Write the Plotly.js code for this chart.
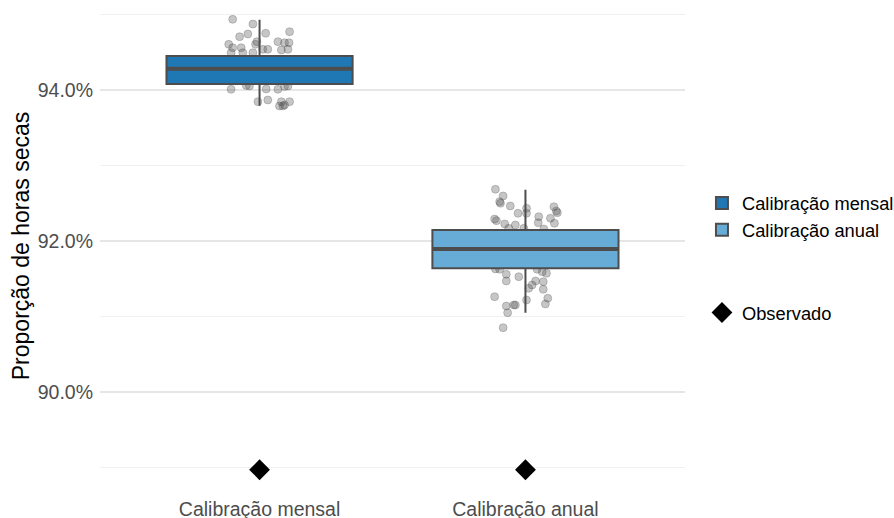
<!DOCTYPE html>
<html>
<head>
<meta charset="utf-8">
<script src="https://cdn.plot.ly/plotly-3.0.1.min.js"></script>
<style>html,body{margin:0;padding:0;background:#fff;}#chart{width:894px;height:518px;}</style>
</head>
<body>
<div id="chart"></div>
<script>
// ---------- data ----------
const categories = ["Calibração mensal", "Calibração anual"];
const boxQ1 = [94.08, 91.64];
const boxMedian = [94.28, 91.895];
const boxQ3 = [94.45, 92.146];
const boxLower = [93.79, 91.05];
const boxUpper = [94.93, 92.68];
const observado = [88.97, 88.97];

// jittered simulation points (offset from category centre, value in %)
const mensalJitter = [-0.101,-0.025,0.113,-0.075,-0.044,0.023,-0.116,-0.101,-0.069,-0.015,-0.010,0.069,0.094,0.111,0.031,0.082,0.107,-0.107,-0.063,-0.025,0.012,
  -0.107,-0.050,-0.038,0.025,0.069,0.094,0.107,0.031,-0.006,0.082,0.088,0.113,0.075,0.094,
  -0.090,-0.040,0.010,0.050,0.100,-0.070,0.030,0.060,-0.020,0.085];
const mensalValues = [94.936,94.874,94.772,94.706,94.742,94.751,94.605,94.560,94.560,94.605,94.640,94.640,94.626,94.626,94.539,94.530,94.539,94.494,94.494,94.494,94.539,
  94.009,94.060,94.053,94.013,94.009,94.046,94.053,93.868,93.845,93.845,93.788,93.845,93.788,93.801,
  94.12,94.18,94.22,94.30,94.35,94.40,94.25,94.15,94.38,94.32];
const anualJitter = [-0.113,-0.084,-0.097,-0.094,-0.057,0.004,-0.028,0.004,0.107,0.116,0.120,0.050,0.094,-0.116,-0.109,-0.078,-0.038,0.048,0.109,0.069,-0.063,-0.006,
  -0.113,-0.097,-0.072,-0.072,-0.025,0.044,0.063,0.079,0.038,0.025,0.012,0.067,0.067,-0.116,0.004,0.084,0.075,-0.072,-0.044,-0.038,-0.067,-0.084,
  -0.100,-0.050,0.020,0.070,0.110,-0.030,0.040,-0.080];
const anualValues = [92.685,92.596,92.521,92.499,92.464,92.433,92.367,92.367,92.454,92.397,92.375,92.322,92.301,92.291,92.269,92.225,92.212,92.242,92.234,92.159,92.168,92.168,
  91.630,91.625,91.559,91.470,91.527,91.625,91.593,91.572,91.470,91.417,91.374,91.461,91.360,91.262,91.219,91.241,91.166,91.139,91.152,91.152,91.050,90.852,
  91.70,91.80,91.90,92.00,92.10,91.75,91.95,92.05];

// ---------- styles ----------
const fillColors = ["#1f77b4", "#67acd6"];
const lineColor = "#4d4d4d";
const halfWidth = 0.35;
const font = "Liberation Sans, Arial, sans-serif";

const traces = [];
// jitter points (main axes -> drawn below boxes)
[[mensalJitter, mensalValues], [anualJitter, anualValues]].forEach((pair, i) => {
  traces.push({
    type: "scatter", mode: "markers",
    x: pair[0].map(d => (i + 1) + d), y: pair[1],
    xaxis: "x", yaxis: "y",
    marker: {size: 8, color: "rgba(77,77,77,0.32)", line: {color: "rgba(60,60,60,0.35)", width: 0.7}},
    showlegend: false, hoverinfo: "skip"
  });
});
// boxes (overlay axes -> drawn above points)
categories.forEach((c, i) => {
  traces.push({
    type: "box", name: c, x: [i + 1],
    q1: [boxQ1[i]], median: [boxMedian[i]], q3: [boxQ3[i]],
    lowerfence: [boxLower[i]], upperfence: [boxUpper[i]],
    width: 2 * halfWidth, whiskerwidth: 0,
    fillcolor: fillColors[i], line: {color: lineColor, width: 2},
    boxpoints: false, xaxis: "x2", yaxis: "y2",
    legendgroup: "fill", showlegend: true
  });
});
// thicker medians
categories.forEach((c, i) => {
  traces.push({
    type: "scatter", mode: "lines",
    x: [i + 1 - halfWidth, i + 1 + halfWidth], y: [boxMedian[i], boxMedian[i]],
    line: {color: lineColor, width: 4}, xaxis: "x2", yaxis: "y2",
    showlegend: false, hoverinfo: "skip"
  });
});
// observed
traces.push({
  type: "scatter", mode: "markers", name: "Observado",
  x: categories.map((c, i) => i + 1), y: observado,
  marker: {symbol: "diamond", size: 16, color: "#000"},
  xaxis: "x2", yaxis: "y2", legendgroup: "shape", showlegend: true
});

const yRange = [88.675, 95.192];
const xRange = [0.4, 2.6];
const layout = {
  width: 894, height: 518,
  margin: {l: 100, r: 209, t: 0, b: 26, autoexpand: false},
  paper_bgcolor: "#fff", plot_bgcolor: "#fff",
  font: {family: font, color: "#000"},
  showlegend: true,
  legend: {x: 1.029, xanchor: "left", y: 0.625, yanchor: "top", traceorder: "grouped",
    tracegroupgap: 56, font: {size: 18.3, color: "#000"}, bgcolor: "rgba(0,0,0,0)"},
  xaxis: {range: xRange, tickvals: [1, 2], ticktext: categories, showgrid: false, zeroline: false,
    showline: false, ticks: "", tickfont: {size: 19.5, color: "#4d4d4d"}, ticklabelstandoff: 3},
  yaxis: {range: yRange, tick0: 90, dtick: 2, tickformat: ".1f", ticksuffix: "%",
    showgrid: true, gridcolor: "#e6e6e6", gridwidth: 1.2, zeroline: false, showline: false, ticks: "",
    tickfont: {size: 19.5, color: "#4d4d4d"}, ticklabelstandoff: 6,
    minor: {tick0: 89, dtick: 1, showgrid: true, gridcolor: "#f0f0f0", gridwidth: 1},
    title: {text: "Proporção de horas secas", font: {size: 23, color: "#000"}, standoff: 1}},
  xaxis2: {overlaying: "x", range: xRange, visible: false},
  yaxis2: {overlaying: "y", range: yRange, visible: false},
  boxmode: "overlay"
};
Plotly.newPlot("chart", traces, layout, {displayModeBar: false, staticPlot: true});
</script>
</body>
</html>
